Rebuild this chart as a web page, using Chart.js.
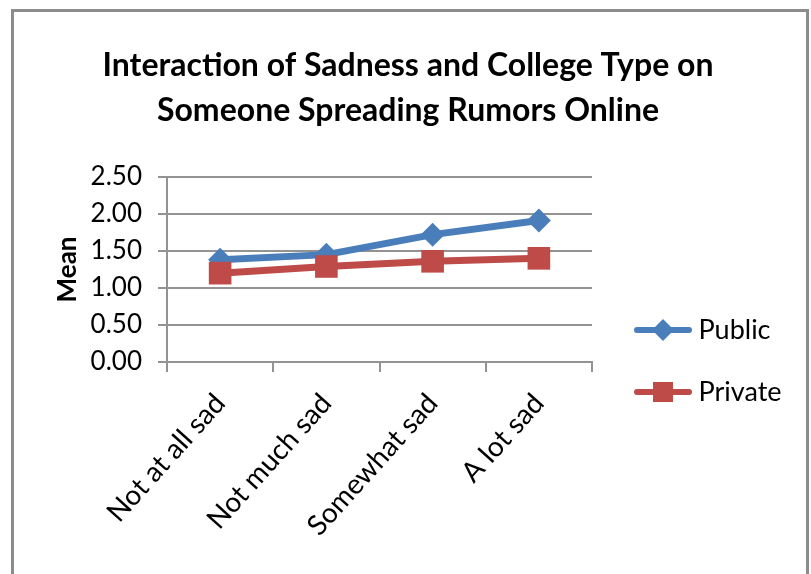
<!DOCTYPE html>
<html>
<head>
<meta charset="utf-8">
<script src="https://cdn.jsdelivr.net/npm/chart.js@4"></script>
<style>
  body { margin: 0; background: #fff; overflow: hidden; }
  #frame { position: absolute; left: 11px; top: 9px; width: 792px; height: 600px; border: 3px solid #8c8c8c; }
  #canvas { position: absolute; left: 0; top: 0; }
</style>
</head>
<body>
<div id="frame"></div>
<canvas id="canvas" width="811" height="574"></canvas>
<script>
  // chart data
  var categories = ["Not at all sad", "Not much sad", "Somewhat sad", "A lot sad"];
  var publicMeans = [1.38, 1.45, 1.72, 1.91];
  var privateMeans = [1.20, 1.29, 1.36, 1.40];
  var titleLines = ["Interaction of Sadness and College Type on", "Someone Spreading Rumors Online"];
  var yTitle = "Mean";

  var blue = "#4a7ebb";
  var red = "#be4b48";
  var gray = "#939393";
  var fontName = "Lato, 'Open Sans', sans-serif";

  //small picture for legend : line with marker in the middle
  function legendIcon(color, shape)
  {
      var c = document.createElement("canvas");
      c.width = 58;
      c.height = 26;
      var g = c.getContext("2d");
      g.strokeStyle = color;
      g.lineWidth = 6;
      g.lineCap = "round";
      g.beginPath();
      g.moveTo(3, 13);
      g.lineTo(55, 13);
      g.stroke();
      g.fillStyle = color;
      g.beginPath();
      if (shape == "diamond")
      {
        g.moveTo(29, 2); g.lineTo(40, 13); g.lineTo(29, 24); g.lineTo(18, 13);
      }
      else
      {
        g.rect(19, 3, 20, 20);
      }
      g.closePath();
      g.fill();
      return c;
  }
  var icons = [legendIcon(blue, "diamond"), legendIcon(red, "square")];

  //move the legend box a bit (right and down) once the layout is done
  var legendShift = {
      id: 'legendShift',
      afterLayout: function(chart) {
        var lg = chart.legend;
        lg.left += 14; lg.right += 14;
        lg.top += 74; lg.bottom += 74;
      }
  };

  var ctx = document.getElementById("canvas").getContext("2d");
  var chart = new Chart(ctx, {
      type: 'line',
      data: {
        labels: categories,
        datasets: [
          {
            label: 'Public',
            data: publicMeans,
            borderColor: blue,
            backgroundColor: blue,
            borderWidth: 7,
            pointStyle: 'rectRot',
            pointRadius: 12,
            pointBorderWidth: 0,
            tension: 0,
            order: 1
          },
          {
            label: 'Private',
            data: privateMeans,
            borderColor: red,
            backgroundColor: red,
            borderWidth: 7,
            pointStyle: 'rect',
            pointRadius: 16,
            pointBorderWidth: 0,
            tension: 0,
            order: 0
          }
        ]
      },
      plugins: [legendShift],
      options: {
        responsive: false,
        animation: false,
        layout: { padding: { left: 40, right: 35, top: 0, bottom: 0 } },
        plugins: {
          tooltip: { enabled: false },
          title: {
            display: true,
            text: titleLines,
            color: '#000',
            font: { family: fontName, size: 32, weight: 'bold', lineHeight: 1.42 },
            padding: { top: 43, bottom: 43 }
          },
          legend: {
            position: 'right',
            labels: {
              usePointStyle: true,
              pointStyleWidth: 44,
              color: '#000',
              font: { family: fontName, size: 27 },
              padding: 35,
              sort: function(a, b) { return a.datasetIndex - b.datasetIndex; },
              generateLabels: function(chart) {
                var items = Chart.defaults.plugins.legend.labels.generateLabels(chart);
                items.forEach(function(it) { it.pointStyle = icons[it.datasetIndex]; });
                return items;
              }
            }
          }
        },
        scales: {
          x: {
            offset: true,
            grid: { drawOnChartArea: false, offset: true, color: gray, lineWidth: 2, tickLength: 10 },
            border: { color: gray, width: 2 },
            ticks: {
              color: '#000',
              font: { family: fontName, size: 28 },
              minRotation: 48,
              maxRotation: 48,
              autoSkip: false,
              padding: 15
            },
            afterFit: function(s) { s.height = 212; }
          },
          y: {
            min: 0,
            max: 2.5,
            ticks: {
              stepSize: 0.5,
              autoSkip: false,
              color: '#000',
              font: { family: fontName, size: 26 },
              padding: 16,
              callback: function(v) { return v.toFixed(2); }
            },
            grid: { color: gray, lineWidth: 2, tickLength: 9 },
            border: { color: gray, width: 2 },
            title: {
              display: true,
              text: yTitle,
              color: '#000',
              font: { family: fontName, size: 26, weight: 'bold' },
              padding: { top: 12, bottom: 0 }
            },
            afterFit: function(s) { s.width = 127; }
          }
        }
      }
  });
</script>
</body>
</html>
